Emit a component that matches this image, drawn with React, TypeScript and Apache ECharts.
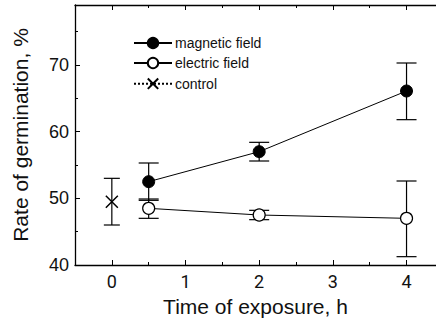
import React, { useEffect, useRef } from "react";
import * as echarts from "echarts";

const xMajor = [0, 1, 2, 3, 4];
const xMinor = [0.5, 1.5, 2.5, 3.5];
const yMajor = [40, 50, 60, 70];
const yMinor = [45, 55, 65, 75];

const fieldTimes = [0.5, 2, 4];
const magneticMean = [52.5, 57.0, 66.1];
const magneticLow = [49.7, 55.6, 61.8];
const magneticHigh = [55.3, 58.4, 70.3];
const electricMean = [48.5, 47.5, 47.0];
const electricLow = [47.0, 46.8, 41.25];
const electricHigh = [49.9, 48.2, 52.6];
const controlTimes = [0];
const controlMean = [49.5];
const controlLow = [46.0];
const controlHigh = [53.0];

const FONT = '"Liberation Sans", Arial, sans-serif';
const TICK_FONT = 'Roboto, "DejaVu Sans", sans-serif';
const CROSS = "path://M0,0L10,10M10,0L0,10";

export default function App() {
  const ref = useRef<HTMLDivElement>(null);
  useEffect(() => {
    const chart = echarts.init(ref.current!, null, { renderer: "svg" });
    const errData: any[] = [];
    fieldTimes.forEach((t, i) => {
      errData.push([t, magneticLow[i], magneticHigh[i], 20]);
      errData.push([t, electricLow[i], electricHigh[i], 20]);
    });
    controlTimes.forEach((t, i) => errData.push([t, controlLow[i], controlHigh[i], 16]));

    const lineAx = { show: true, onZero: false, lineStyle: { color: "#000", width: 1.3 } };
    const noLine = { show: false, onZero: false };
    const baseX = { type: "value", min: -0.5, max: 4.4, gridIndex: 0, splitLine: { show: false } };
    const baseY = { type: "value", min: 40, max: 79, gridIndex: 0, splitLine: { show: false } };

    chart.setOption({
      animation: false,
      backgroundColor: "#fff",
      textStyle: { fontFamily: FONT },
      grid: { left: 75, right: 0, top: 5, bottom: 57 },
      legend: {
        orient: "vertical",
        left: 133,
        top: 36,
        padding: 0,
        itemWidth: 38,
        itemHeight: 13,
        itemGap: 6,
        textStyle: { fontFamily: FONT, fontSize: 14, color: "#111", padding: [0, 0, 0, -2] },
        data: ["magnetic field", "electric field", "control"],
      },
      xAxis: [
        {
          ...baseX,
          position: "bottom",
          axisLine: lineAx,
          axisTick: { show: true, inside: true, length: 5, customValues: xMajor, lineStyle: { color: "#000" } },
          axisLabel: {
            customValues: xMajor,
            fontFamily: TICK_FONT,
            fontSize: 18,
            color: "#111",
            margin: 7,
            hideOverlap: false,
          },
          name: "Time of exposure, h",
          nameLocation: "middle",
          nameGap: 31,
          nameTextStyle: { fontFamily: FONT, fontSize: 21, color: "#111" },
        },
        {
          ...baseX,
          position: "bottom",
          axisLine: noLine,
          axisTick: { show: true, inside: true, length: 3, customValues: xMinor, lineStyle: { color: "#000" } },
          axisLabel: { show: false },
        },
        {
          ...baseX,
          position: "top",
          axisLine: lineAx,
          axisTick: { show: true, inside: true, length: 5, customValues: xMajor, lineStyle: { color: "#000" } },
          axisLabel: { show: false },
        },
        {
          ...baseX,
          position: "top",
          axisLine: noLine,
          axisTick: { show: true, inside: true, length: 3, customValues: xMinor, lineStyle: { color: "#000" } },
          axisLabel: { show: false },
        },
      ],
      yAxis: [
        {
          ...baseY,
          position: "left",
          axisLine: lineAx,
          axisTick: { show: true, inside: true, length: 5, customValues: yMajor, lineStyle: { color: "#000" } },
          axisLabel: {
            customValues: yMajor,
            fontFamily: FONT,
            fontSize: 18,
            color: "#111",
            margin: 6,
          },
          name: "Rate of germination, %",
          nameLocation: "middle",
          nameGap: 44,
          nameTextStyle: { fontFamily: FONT, fontSize: 21, color: "#111" },
        },
        {
          ...baseY,
          position: "left",
          axisLine: noLine,
          axisTick: { show: true, inside: true, length: 3, customValues: yMinor, lineStyle: { color: "#000" } },
          axisLabel: { show: false },
        },
      ],
      series: [
        {
          type: "custom",
          name: "errors",
          xAxisIndex: 0,
          yAxisIndex: 0,
          z: 1,
          data: errData,
          renderItem: (params: any, api: any) => {
            const x = api.value(0);
            const lo = api.coord([x, api.value(1)]);
            const hi = api.coord([x, api.value(2)]);
            const w = api.value(3) / 2;
            const style = { stroke: "#000", lineWidth: 1.2 };
            return {
              type: "group",
              children: [
                { type: "line", shape: { x1: lo[0], y1: lo[1], x2: hi[0], y2: hi[1] }, style },
                { type: "line", shape: { x1: lo[0] - w, y1: lo[1], x2: lo[0] + w, y2: lo[1] }, style },
                { type: "line", shape: { x1: hi[0] - w, y1: hi[1], x2: hi[0] + w, y2: hi[1] }, style },
              ],
            };
          },
        },
        {
          type: "line",
          name: "magnetic field",
          z: 3,
          data: fieldTimes.map((t, i) => [t, magneticMean[i]]),
          symbol: "circle",
          symbolSize: 12,
          lineStyle: { color: "#000", width: 1 },
          itemStyle: { color: "#000", borderColor: "#000", borderWidth: 1 },
        },
        {
          type: "line",
          name: "electric field",
          z: 3,
          data: fieldTimes.map((t, i) => [t, electricMean[i]]),
          symbol: "circle",
          symbolSize: 12,
          lineStyle: { color: "#000", width: 1 },
          itemStyle: { color: "#fff", borderColor: "#000", borderWidth: 1.2 },
        },
        {
          type: "line",
          name: "control",
          z: 3,
          data: controlTimes.map((t, i) => [t, controlMean[i]]),
          symbol: CROSS,
          symbolSize: 12,
          lineStyle: { color: "#000", width: 1, type: "dotted" },
          itemStyle: { color: "none", borderColor: "#000", borderWidth: 1.5 },
        },
      ],
    });
    return () => chart.dispose();
  }, []);
  return <div ref={ref} style={{ width: 436, height: 322, position: "absolute", left: 0, top: 0 }} />;
}
